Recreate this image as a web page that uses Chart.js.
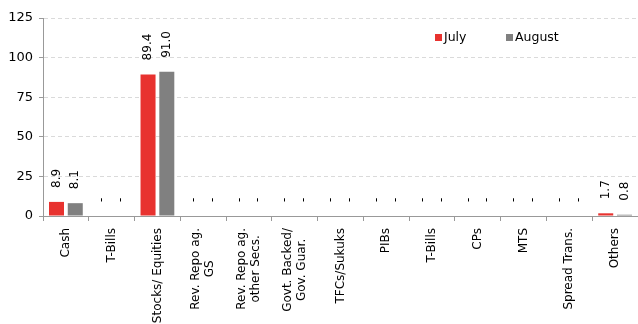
<!DOCTYPE html>
<html>
<head>
<meta charset="utf-8">
<script src="https://cdn.jsdelivr.net/npm/chart.js@4"></script>
<style>
  html, body { margin: 0; padding: 0; background: #fff; overflow: hidden; }
  #wrap { width: 638px; height: 324px; }
</style>
</head>
<body>
<div id="wrap"><canvas id="portfolioChart"></canvas></div>
<script>
const categories = [
    ['Cash'], ['T-Bills'], ['Stocks/ Equities'], ['Rev. Repo ag.', 'GS'],
    ['Rev. Repo ag.', 'other Secs.'], ['Govt. Backed/', 'Gov. Guar.'], ['TFCs/Sukuks'],
    ['PIBs'], ['T-Bills'], ['CPs'], ['MTS'], ['Spread Trans.'], ['Others']
];
const julyValues = [8.9, 0, 89.4, 0, 0, 0, 0, 0, 0, 0, 0, 0, 1.7];
const augustValues = [8.1, 0, 91.0, 0, 0, 0, 0, 0, 0, 0, 0, 0, 0.8];
const yTicks = [0, 25, 50, 75, 100, 125];

const FONT = 'DejaVu Sans';
const RED = '#e8322f';
const GREY = '#808080';

// value labels over each bar, written bottom-to-top; zeros shown as "-"
const barLabels = {
    id: 'barLabels',
    afterDatasetsDraw(chart) {
        const ctx = chart.ctx;
        ctx.save();
        ctx.font = '12px "' + FONT + '"';
        ctx.fillStyle = '#000';
        ctx.textAlign = 'left';
        ctx.textBaseline = 'middle';
        chart.data.datasets.forEach((ds, di) => {
            chart.getDatasetMeta(di).data.forEach((bar, i) => {
                const v = ds.data[i];
                const txt = v === 0 ? '-' : v.toFixed(1);
                ctx.save();
                ctx.translate(bar.x, bar.y - 14);
                ctx.rotate(-Math.PI / 2);
                ctx.fillText(txt, 0, 0);
                ctx.restore();
            });
        });
        ctx.restore();
    }
};

// rotated category names, lines centred on each other
const catLabels = {
    id: 'catLabels',
    afterDraw(chart) {
        const ctx = chart.ctx;
        const xs = chart.scales.x;
        const top = chart.chartArea.bottom + 12;
        ctx.save();
        ctx.font = '12px "' + FONT + '"';
        ctx.fillStyle = '#000';
        ctx.textAlign = 'center';
        ctx.textBaseline = 'middle';
        categories.forEach((lines, i) => {
            const w = Math.max(...lines.map(l => ctx.measureText(l).width));
            ctx.save();
            ctx.translate(xs.getPixelForValue(i), top);
            ctx.rotate(-Math.PI / 2);
            lines.forEach((l, j) => {
                ctx.fillText(l, -w / 2, (j - (lines.length - 1) / 2) * 14);
            });
            ctx.restore();
        });
        ctx.restore();
    }
};

// small legend in the upper right of the plot
const miniLegend = {
    id: 'miniLegend',
    afterDraw(chart) {
        const ctx = chart.ctx;
        const spots = [435, 506];
        ctx.save();
        ctx.font = '12.5px "' + FONT + '"';
        ctx.textBaseline = 'middle';
        ctx.textAlign = 'left';
        chart.data.datasets.forEach((ds, i) => {
            ctx.fillStyle = ds.backgroundColor;
            ctx.fillRect(spots[i], 34, 7, 7);
            ctx.fillStyle = '#000';
            ctx.fillText(ds.label, spots[i] + 9, 38);
        });
        ctx.restore();
    }
};

new Chart(document.getElementById('portfolioChart'), {
    type: 'bar',
    data: {
        labels: categories.map(c => c.join(' ')),
        datasets: [
            { label: 'July', data: julyValues, backgroundColor: RED },
            { label: 'August', data: augustValues, backgroundColor: GREY }
        ]
    },
    options: {
        responsive: true,
        maintainAspectRatio: false,
        animation: false,
        layout: { padding: { top: 18, right: 0, left: 0, bottom: 0 } },
        datasets: { bar: { categoryPercentage: 0.82, barPercentage: 0.8 } },
        plugins: {
            legend: { display: false },
            tooltip: { enabled: false }
        },
        scales: {
            x: {
                offset: true,
                grid: {
                    offset: true,
                    drawOnChartArea: false,
                    tickLength: 5,
                    tickColor: '#999'
                },
                border: { color: '#999' },
                ticks: { display: false },
                afterFit: s => { s.height = 108; }
            },
            y: {
                min: 0,
                max: 125,
                afterBuildTicks: s => { s.ticks = yTicks.map(v => ({ value: v })); },
                ticks: {
                    color: '#000',
                    padding: 6,
                    font: { family: FONT, size: 13 }
                },
                grid: {
                    color: c => c.tick && c.tick.value === 0 ? 'rgba(0,0,0,0)' : '#dadada',
                    tickColor: '#999',
                    tickLength: 4
                },
                border: { color: '#999', dash: [4, 3] },
                afterFit: s => { s.width = 43; }
            }
        }
    },
    plugins: [barLabels, catLabels, miniLegend]
});
</script>
</body>
</html>
